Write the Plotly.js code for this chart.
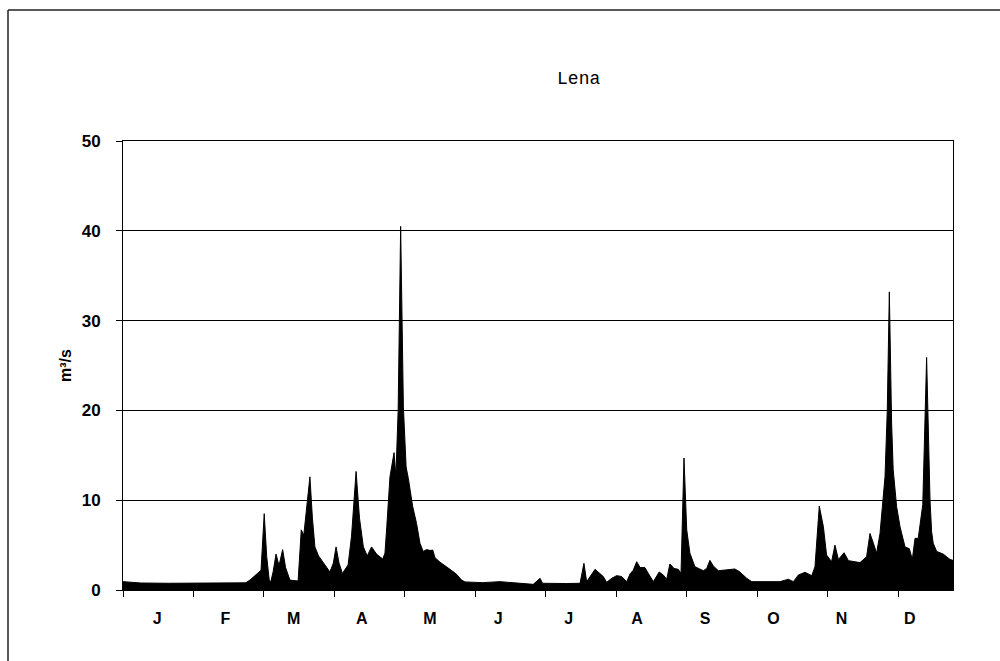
<!DOCTYPE html>
<html>
<head>
<meta charset="utf-8">
<script src="https://cdn.plot.ly/plotly-3.0.1.min.js"></script>
<style>html,body{margin:0;padding:0;background:#fff;}#chart{width:1000px;height:661px;}</style>
</head>
<body>
<div id="chart"></div>
<script>
// Day of year (0-365) and flow (m³/s)
const days = [0,3,8,20,35,50,54,55.8,58,59.5,60.7,62.1,63.2,64.3,65,66,67.3,68.6,70.2,71.5,73.4,77,78.4,79.5,82.2,83.3,84.4,86,88.1,91,92.5,93.7,95,96.5,99,100.5,102.5,104,105.7,107.4,109.3,111.5,114.2,115.2,116,117.4,119.2,120,121,122.1,123.3,124.5,125.5,127.4,129.1,130.6,132,133.6,135,136.2,137.2,139.4,143.8,146.7,148.9,150.4,158,165.8,172,180.4,183.4,184.5,195,201,202.7,203.9,207.6,209.8,211.2,212.7,214.9,217.1,219.3,221.5,223,224.4,225.9,227.4,229.5,231,233.2,235.8,237.6,239.1,240.5,242.3,244.2,245.4,246.7,247.9,249.3,251.5,255.2,256.7,258.1,259.6,261.8,269.1,271.3,274.3,276.5,288.9,292.6,294.8,297,299.9,302.9,304.3,306.2,308,309.4,311.6,313.1,314.6,317.1,319,324.1,327,328.5,330,331.4,332.9,335.1,336.1,337,338,338.7,340.2,341.7,343.9,345.8,347.1,348.3,349.7,351.7,353.4,354.1,354.9,355.6,356.3,357.8,360.7,363.7,365];
const flow = [0.93,0.85,0.78,0.75,0.75,0.75,0.8,1.1,1.56,1.86,2.2,8.5,3.7,1.1,0.93,2.0,4.0,2.7,4.5,2.5,1.1,1.0,6.7,6.1,12.6,8.0,4.8,3.8,3.0,2.0,3.0,4.8,3.0,1.85,2.8,6.0,13.2,8.0,4.8,3.8,4.8,4.0,3.45,4.1,7.05,12.6,15.3,12.7,20,40.5,20.4,13.7,12.4,9.3,7.4,5.2,4.3,4.5,4.4,4.45,3.6,3.1,2.3,1.75,1.1,0.9,0.82,0.93,0.8,0.63,1.3,0.75,0.72,0.75,2.97,0.93,2.3,1.86,1.5,0.85,1.3,1.6,1.5,0.93,1.8,2.2,3.15,2.5,2.5,1.86,0.93,2.0,1.67,1.2,2.9,2.4,2.3,1.86,14.7,6.7,4.1,2.6,2.15,2.4,3.3,2.67,2.15,2.34,2.0,1.3,0.93,0.93,1.2,0.93,1.67,1.97,1.6,2.6,9.35,7.05,3.9,3.15,5.0,3.4,4.15,3.27,3.05,3.7,6.3,5.2,4.1,6.3,12.6,20,33.2,18.6,13.4,9.3,7.05,4.8,4.6,3.4,5.75,5.75,9.5,25.9,17,10.0,6.5,5.2,4.3,4.0,3.4,3.3];

const monthLabels = ['J','F','M','A','M','J','J','A','S','O','N','D'];
const monthCenters = [15,45,75,105,135,165,196,226,256,286,316,346];
const tickDays = [0,31,62,93,124,155,186,217,248,279,310,341];
const yTicks = [0,10,20,30,40,50];

const trace = {
  x: days, y: flow, type: 'scatter', mode: 'lines',
  fill: 'tozeroy', fillcolor: '#000000',
  line: {color: '#000000', width: 1},
  hoverinfo: 'skip'
};

const sans = '"Liberation Sans", Arial, sans-serif';
const mono = '"Liberation Mono", "Courier New", monospace';

const layout = {
  width: 1000, height: 661,
  margin: {l: 123, r: 47, t: 141, b: 71},
  paper_bgcolor: '#fff', plot_bgcolor: '#fff',
  showlegend: false,
  title: {
    text: 'Lena',
    font: {family: mono, size: 18, color: '#000'},
    x: 0.549, xanchor: 'center', xref: 'paper',
    y: 1 - 78/661, yanchor: 'middle', yref: 'container'
  },
  xaxis: {
    range: [0, 365], fixedrange: true,
    tickmode: 'array', tickvals: monthCenters, ticktext: monthLabels,
    ticks: '', ticklabelstandoff: 14,
    tickfont: {family: sans, size: 16, color: '#000', weight: 'bold'},
    showgrid: false, zeroline: false,
    showline: true, linecolor: '#000', linewidth: 1, mirror: true,
    minor: {tickmode: 'array', tickvals: tickDays, ticks: 'outside', ticklen: 6, tickcolor: '#000', tickwidth: 1, showgrid: false}
  },
  yaxis: {
    range: [0, 50], fixedrange: true,
    tickmode: 'array', tickvals: yTicks,
    ticks: 'outside', ticklen: 6, tickcolor: '#000',
    ticklabelstandoff: 12,
    tickfont: {family: sans, size: 17, color: '#000', weight: 'bold'},
    showgrid: true, gridcolor: '#000', gridwidth: 1,
    zeroline: false,
    showline: true, linecolor: '#000', linewidth: 1, mirror: true,
    title: {text: 'm³/s', standoff: 6, font: {family: sans, size: 16, color: '#000', weight: 'bold'}}
  },
  shapes: [
    {type: 'line', xref: 'paper', yref: 'paper', x0: (8-123)/830, x1: (8-123)/830, y0: (590-10)/449, y1: (590-665)/449, line: {color: '#222', width: 1.5}},
    {type: 'line', xref: 'paper', yref: 'paper', x0: (8-123)/830, x1: (1005-123)/830, y0: (590-10)/449, y1: (590-10)/449, line: {color: '#222', width: 1.5}}
  ]
};

Plotly.newPlot('chart', [trace], layout, {staticPlot: true, displayModeBar: false});
</script>
</body>
</html>
